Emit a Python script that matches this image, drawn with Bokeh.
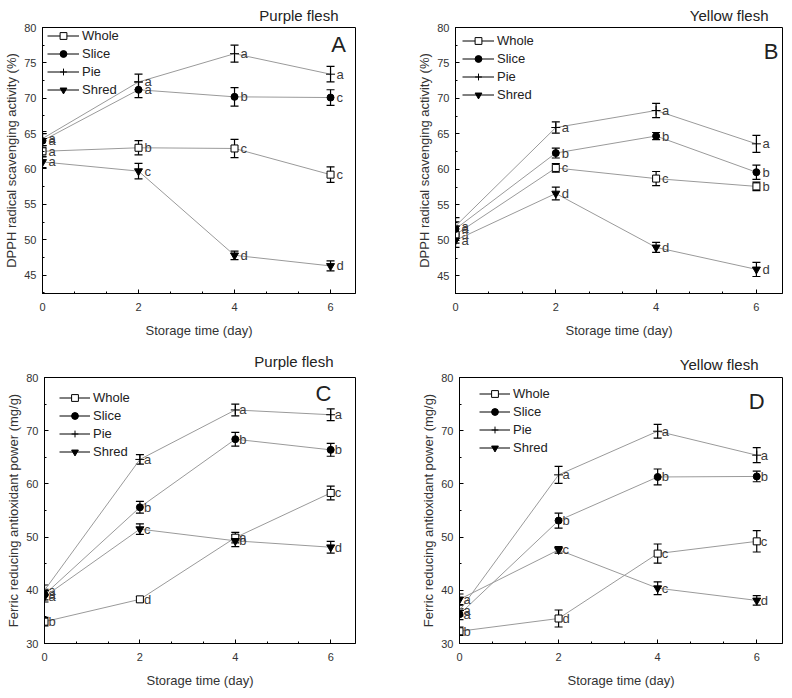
from bokeh.plotting import figure
from bokeh.models import (ColumnDataSource, Whisker, TeeHead, Legend, LegendItem,
                          Label, SingleIntervalTicker, CDSView, IndexFilter)
from bokeh.layouts import column, row
from bokeh.core.properties import value
from bokeh.embed import file_html
from bokeh.resources import INLINE

FONT = "Liberation Sans"

days = [0, 2, 4, 6]
series_names = ["Whole", "Slice", "Pie", "Shred"]

# Panel A: DPPH, purple flesh
a_whole = [62.5, 63.0, 62.9, 59.2]
a_whole_err = [0.8, 1.0, 1.3, 1.1]
a_slice = [64.0, 71.2, 70.2, 70.1]
a_slice_err = [1.0, 1.1, 1.3, 1.1]
a_pie = [64.3, 72.3, 76.3, 73.4]
a_pie_err = [1.0, 1.1, 1.2, 1.1]
a_shred = [61.0, 59.7, 47.8, 46.3]
a_shred_err = [0.8, 1.1, 0.6, 0.7]
a_letters = [["a", "b", "c", "c"], ["a", "a", "b", "c"], ["a", "a", "a", "a"], ["a", "c", "d", "d"]]

# Panel B: DPPH, yellow flesh
b_whole = [50.8, 60.2, 58.7, 57.6]
b_whole_err = [1.2, 0.6, 1.0, 0.6]
b_slice = [51.6, 62.3, 64.7, 59.6]
b_slice_err = [1.0, 0.7, 0.5, 1.0]
b_pie = [52.0, 65.9, 68.3, 63.6]
b_pie_err = [1.2, 0.8, 1.0, 1.2]
b_shred = [50.0, 56.6, 49.0, 45.9]
b_shred_err = [1.0, 0.9, 0.7, 1.0]
b_letters = [["a", "c", "c", "b"], ["a", "b", "b", "b"], ["a", "a", "a", "a"], ["a", "d", "d", "d"]]

# Panel C: FRAP, purple flesh
c_whole = [34.1, 38.3, 49.9, 58.3]
c_whole_err = [0.8, 0.5, 1.0, 1.3]
c_slice = [39.2, 55.6, 68.4, 66.4]
c_slice_err = [1.0, 1.1, 1.3, 1.2]
c_pie = [40.0, 64.6, 73.9, 73.0]
c_pie_err = [1.0, 0.9, 1.1, 1.1]
c_shred = [38.8, 51.5, 49.3, 48.1]
c_shred_err = [1.0, 1.0, 1.1, 1.1]
c_letters = [["b", "d", "a", "c"], ["a", "b", "b", "b"], ["a", "a", "a", "a"], ["a", "c", "b", "d"]]

# Panel D: FRAP, yellow flesh
d_whole = [32.3, 34.7, 46.9, 49.2]
d_whole_err = [0.8, 1.6, 1.8, 2.0]
d_slice = [35.5, 53.1, 61.3, 61.4]
d_slice_err = [1.0, 1.4, 1.5, 1.0]
d_pie = [36.2, 61.7, 69.9, 65.4]
d_pie_err = [1.0, 1.6, 1.3, 1.4]
d_shred = [38.3, 47.6, 40.4, 38.1]
d_shred_err = [1.0, 0.6, 1.2, 0.9]
d_letters = [["b", "d", "c", "c"], ["a", "b", "b", "b"], ["a", "a", "a", "a"], ["a", "c", "c", "d"]]

dpph_label = "DPPH radical scavenging activity (%)"
frap_label = "Ferric reducing antioxidant power (mg/g)"
x_label = "Storage time (day)"

MARKERS = {
    "Whole": dict(marker="square", fill_color="white", size=7),
    "Slice": dict(marker="circle", fill_color="black", size=7),
    "Pie": dict(marker="cross", fill_color="black", size=9),
    "Shred": dict(marker="inverted_triangle", fill_color="black", size=8),
}


def panel(values, errs, letters, title, letter, ylab, yr, ystep, geom):
    p = figure(width=geom["w"], height=geom["h"], output_backend="svg",
               toolbar_location=None, x_range=(0, 6.52), y_range=yr,
               min_border_left=geom["l"], min_border_right=geom["r"],
               min_border_top=geom["t"], min_border_bottom=geom["b"])
    p.background_fill_color = "white"
    p.border_fill_color = "white"
    p.grid.visible = False
    p.outline_line_color = "black"
    p.outline_line_width = 1
    p.outline_line_alpha = 1

    p.title.text = title
    p.title.align = "right"
    p.title.offset = geom["toff"]
    p.title.text_font = FONT
    p.title.text_font_size = "15px"
    p.title.text_font_style = "normal"
    p.title.text_color = "#222222"
    p.title.standoff = geom["tst"]

    p.xaxis.ticker = SingleIntervalTicker(interval=2, num_minor_ticks=3)
    p.yaxis.ticker = SingleIntervalTicker(interval=ystep, num_minor_ticks=2)
    for ax in (p.xaxis, p.yaxis):
        ax.major_tick_in = 4
        ax.major_tick_out = 0
        ax.minor_tick_in = 2
        ax.minor_tick_out = 0
        ax.axis_line_color = "black"
        ax.major_tick_line_color = "black"
        ax.minor_tick_line_color = "black"
        ax.major_label_text_font = FONT
        ax.major_label_text_font_size = "11px"
        ax.major_label_text_color = "#333333"
        ax.axis_label_text_font = FONT
        ax.axis_label_text_font_size = "13px"
        ax.axis_label_text_font_style = "normal"
        ax.axis_label_text_color = "#333333"
    p.xaxis.major_label_standoff = 9
    p.xaxis.axis_label_standoff = 9
    p.yaxis.major_label_standoff = 6
    p.yaxis.axis_label_standoff = 2
    p.xaxis.axis_label = x_label
    p.yaxis.axis_label = ylab

    items = []
    for name, ys, es, labs in zip(series_names, values, errs, letters):
        src = ColumnDataSource(dict(
            x=days, y=ys,
            upper=[v + e for v, e in zip(ys, es)],
            lower=[v - e for v, e in zip(ys, es)],
            lab=labs))
        p.line("x", "y", source=src, line_color="#9a9a9a", line_width=1)
        p.add_layout(Whisker(base="x", upper="upper", lower="lower", source=src,
                             line_color="black", line_width=1.2,
                             upper_head=TeeHead(size=8, line_color="black", line_width=1.2),
                             lower_head=TeeHead(size=8, line_color="black", line_width=1.2)))
        m = MARKERS[name]
        sr = p.scatter("x", "y", source=src, marker=m["marker"], size=m["size"],
                       fill_color=m["fill_color"], line_color="black", line_width=1)
        p.text("x", "y", text="lab", source=src, x_offset=geom["loff"],
               text_align="left", text_baseline="middle",
               text_font=value(FONT), text_font_size="13px", text_color="#3a3a3a")
        # legend line proxy: a single-point view draws nothing in the plot area
        lr = p.line("x", "y", source=src, view=CDSView(filter=IndexFilter(indices=[0])),
                    line_color="black", line_width=1)
        items.append(LegendItem(label=name, renderers=[lr, sr]))

    leg = Legend(items=items, location=geom["legloc"], orientation="vertical",
                 glyph_width=geom["gw"], glyph_height=17, label_height=17,
                 spacing=1, padding=0, margin=0, label_standoff=3,
                 label_text_font=FONT, label_text_font_size="13px",
                 label_text_color="#222222",
                 border_line_color=None, background_fill_alpha=0)
    p.add_layout(leg)

    p.add_layout(Label(x=letter[1], y=letter[2], text=letter[0],
                       text_align="center", text_baseline="middle",
                       text_font=FONT, text_font_size="22px", text_color="#222222"))
    return p


pA = panel([a_whole, a_slice, a_pie, a_shred],
           [a_whole_err, a_slice_err, a_pie_err, a_shred_err], a_letters,
           "Purple flesh", ("A", 6.17, 77.6), dpph_label, (42.4, 80), 5,
           dict(w=400, h=340, l=42, r=45, t=26, b=42, toff=17, tst=8, loff=6,
                legloc=(5, 195), gw=32))
pB = panel([b_whole, b_slice, b_pie, b_shred],
           [b_whole_err, b_slice_err, b_pie_err, b_shred_err], b_letters,
           "Yellow flesh", ("B", 6.29, 76.6), dpph_label, (42.5, 80), 5,
           dict(w=386, h=340, l=55, r=4, t=27, b=41, toff=14, tst=8, loff=6,
                legloc=(7, 190), gw=32))
pC = panel([c_whole, c_slice, c_pie, c_shred],
           [c_whole_err, c_slice_err, c_pie_err, c_shred_err], c_letters,
           "Purple flesh", ("C", 5.85, 77.0), frap_label, (30, 80), 10,
           dict(w=400, h=350, l=44, r=45, t=37, b=42, toff=22, tst=16, loff=4,
                legloc=(15, 183), gw=31))
pD = panel([d_whole, d_slice, d_pie, d_shred],
           [d_whole_err, d_slice_err, d_pie_err, d_shred_err], d_letters,
           "Yellow flesh", ("D", 6.0, 75.4), frap_label, (30, 80), 10,
           dict(w=386, h=350, l=59, r=4, t=36, b=41, toff=24, tst=9, loff=4,
                legloc=(20, 187), gw=31))

layout = column(row(pA, pB), row(pC, pD))
open("out.html", "w").write(file_html(layout, INLINE))
